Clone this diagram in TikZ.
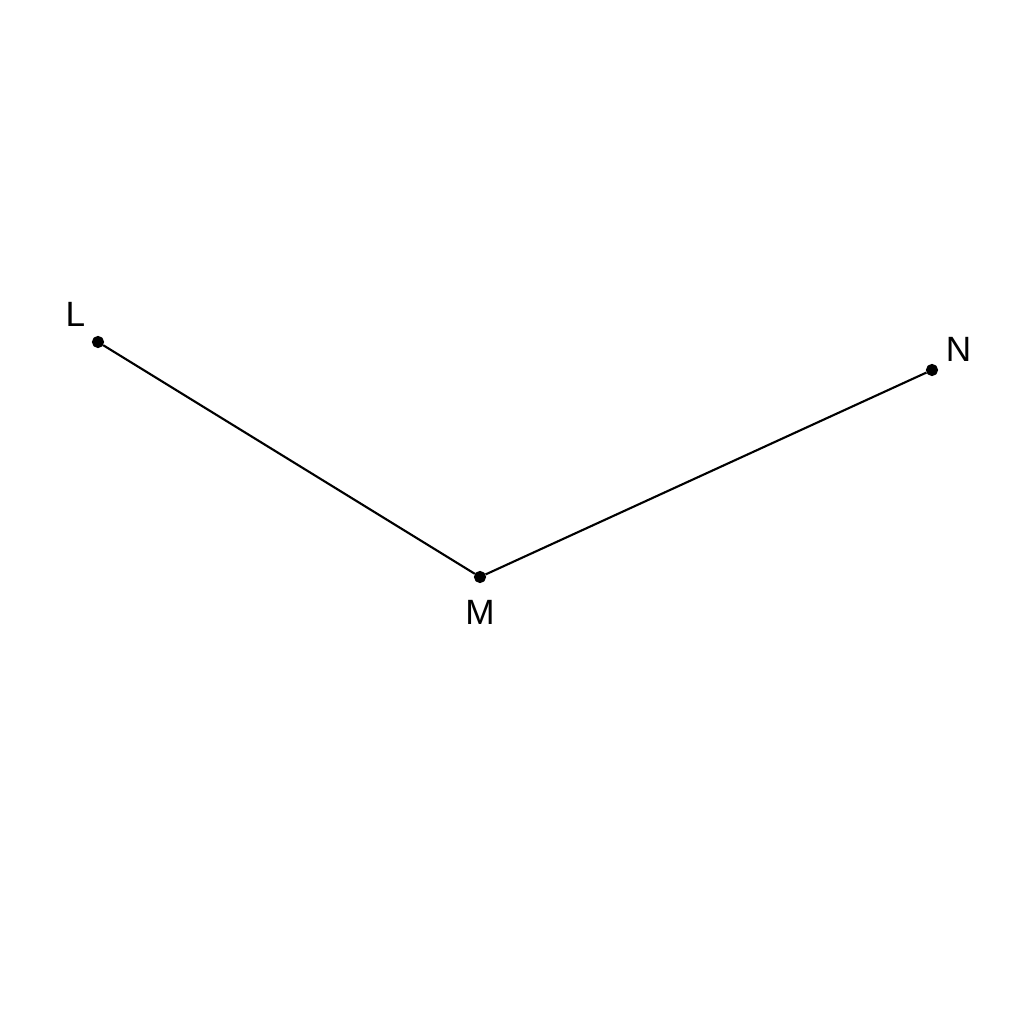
\documentclass[tikz,border=0pt]{standalone}
\usepackage{fontspec}
\setmainfont{Liberation Sans}
\usetikzlibrary{positioning}

\begin{document}
\begin{tikzpicture}
[>=stealth,line width=0.6pt,point/.style = {draw, circle, fill = black, inner sep = 0pt, minimum size = 0.1cm},
every label/.style = {font=\fontsize{10}{12}\selectfont, inner sep = 0pt},]
\useasboundingbox [fill=white] (0,0) rectangle (10.24,10.24);
\node (L) at (0.98,6.82)[point,label={[label distance=3.5pt]130:L}] {};
\node (M) at (4.80,4.47)[point,label={[label distance=4.5pt]below:M}] {};
\node (N) at (9.32,6.54)[point,label={[label distance=2.5pt]30:N}] {};

\draw (L)--(M);
\draw (M)--(N);

\end{tikzpicture}
\end{document}
